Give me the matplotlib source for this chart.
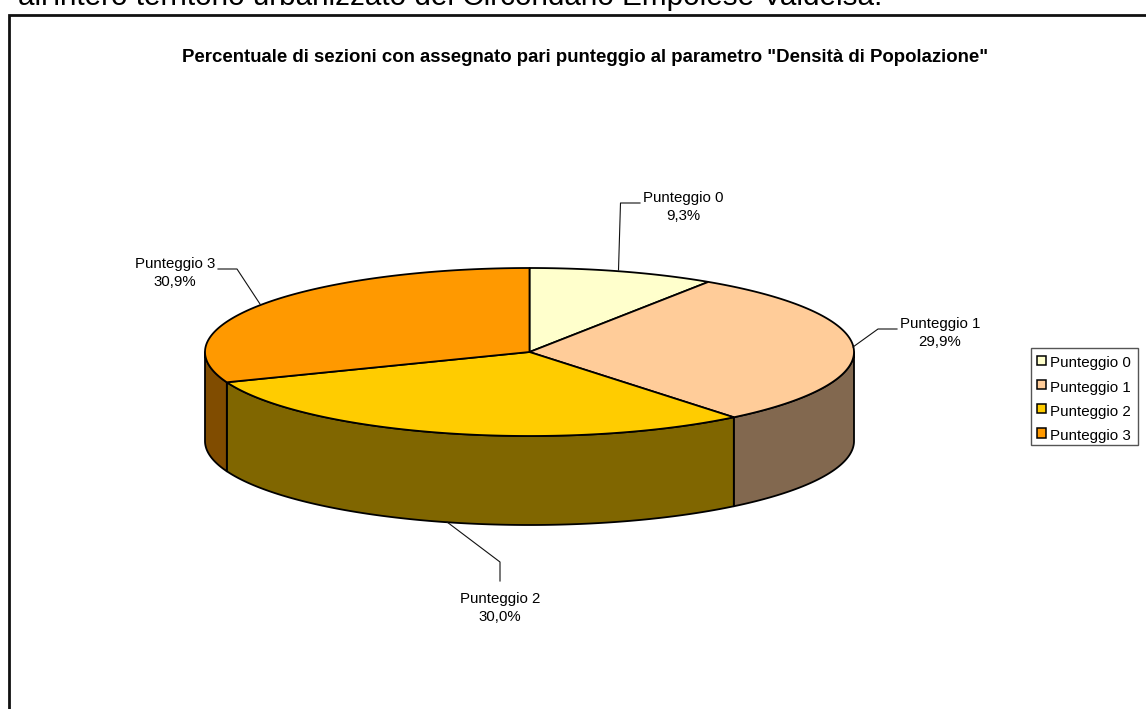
import numpy as np
import matplotlib
matplotlib.use("Agg")
import matplotlib.pyplot as plt
from matplotlib.patches import Polygon, Rectangle

plt.rcParams['font.family'] = ['Liberation Sans', 'DejaVu Sans']

categories = ["Punteggio 0", "Punteggio 1", "Punteggio 2", "Punteggio 3"]
values = [9.3, 29.9, 30.0, 30.9]
value_labels = ["9,3%", "29,9%", "30,0%", "30,9%"]
top_colors = ["#FFFFCC", "#FFCC99", "#FFCC00", "#FF9900"]
side_colors = ["#808066", "#82684F", "#806600", "#804C00"]
title = 'Percentuale di sezioni con assegnato pari punteggio al parametro "Densità di Popolazione"'
header = "all'intero territorio urbanizzato del Circondario Empolese Valdelsa."

W, H = 1146, 709
fig = plt.figure(figsize=(W/100, H/100), dpi=100)
ax = fig.add_axes([0, 0, 1, 1])
ax.set_xlim(0, W); ax.set_ylim(H, 0); ax.axis('off')

cx, cy, rx, ry, depth = 529.5, 352, 324.5, 84, 89

def pt(theta, dy=0):
    return np.column_stack([cx + rx*np.sin(theta), cy - ry*np.cos(theta) + dy])

v = np.array(values)
edges = np.concatenate([[0], np.cumsum(v)/v.sum()*2*np.pi])
lw = 1.3
# side walls
for i in range(4):
    a, b = max(edges[i], np.pi/2), min(edges[i+1], 3*np.pi/2)
    if b <= a:
        continue
    t = np.linspace(a, b, 120)
    verts = np.vstack([pt(t), pt(t[::-1], depth)])
    ax.add_patch(Polygon(verts, closed=True, fc=side_colors[i], ec='black', lw=lw, joinstyle='round'))
# top faces
for i in range(4):
    t = np.linspace(edges[i], edges[i+1], 200)
    verts = np.vstack([[[cx, cy]], pt(t)])
    ax.add_patch(Polygon(verts, closed=True, fc=top_colors[i], ec='black', lw=lw, joinstyle='round'))

# frame
ax.plot([8.5, 8.5, 1160], [720, 14.5, 14.5], color='#111111', lw=2.0, solid_joinstyle='miter')

ax.text(18, 5, header, fontsize=21.3, color='black', ha='left', va='baseline', clip_on=False)
ax.text(585, 58, title, fontsize=13.45, fontweight='bold', ha='center', va='center')

# leaders and labels
leaders = [
    ([618.5, 620.5, 640], [270, 203, 203]),
    ([853, 878, 897], [347, 329, 329]),
    ([447, 500, 500], [522, 562, 581]),
    ([260, 237, 218], [304, 269, 269]),
]
label_xy = [(683, 207), (940, 333), (500, 608), (175, 273)]
for (lx, ly), (tx, ty), c, s in zip(leaders, label_xy, categories, value_labels):
    ax.plot(lx, ly, color='#111111', lw=0.8)
    ax.text(tx, ty, f"{c}\n{s}", fontsize=10.8, ha='center', va='center', linespacing=1.45)

# legend
ax.add_patch(Rectangle((1031, 348), 107, 97, fc='white', ec='#555555', lw=1.0))
for i, c in enumerate(categories):
    y = 360.5 + i*24.2
    ax.add_patch(Rectangle((1036.5, y-5), 9.5, 9.5, fc=top_colors[i], ec='black', lw=1.1))
    ax.text(1050, y+3, c, fontsize=10.9, ha='left', va='center')

fig.savefig("out.png", dpi=100)
